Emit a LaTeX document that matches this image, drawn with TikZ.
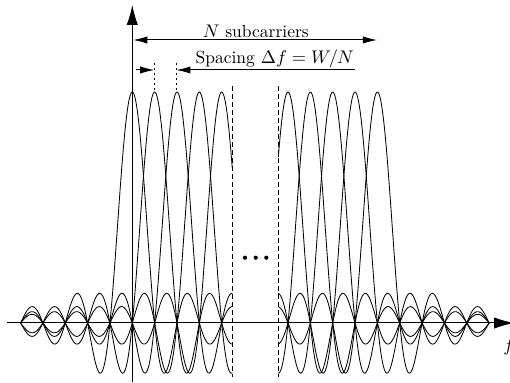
\documentclass[tikz,border=0pt]{standalone}
\usetikzlibrary{arrows.meta}
\begin{document}
\begin{tikzpicture}[x=0.6pt,y=-0.6pt,
  declare function={sncf(\u)=(abs(\u)<0.01)+(abs(\u)>=0.01)*sin(180*\u)/(pi*\u+(abs(\u)<0.01));},
  curve/.style={line width=0.5pt},
  axisline/.style={line width=0.6pt,-{Latex[length=12pt,width=6.8pt]}},
  dimarrow/.style={line width=0.6pt,-{Latex[length=8.5pt,width=4.4pt]}},
  dimboth/.style={line width=0.6pt,{Latex[length=8.5pt,width=4.4pt]}-{Latex[length=8.5pt,width=4.4pt]}},
  sepline/.style={line width=0.6pt,dash pattern=on 3pt off 1.8pt},
  tickline/.style={line width=0.5pt,dash pattern=on 1.5pt off 1.5pt},
  lbl/.style={inner sep=0pt,font=\fontsize{10.5}{12}\selectfont}]
\useasboundingbox (0,0) rectangle (510,383);
% sinc curves
\foreach \k in {0,...,4}{
  \draw[curve] plot[domain=20.55:232.3, samples=240] (\x,{323-231*sncf((\x-132.3-22.35*\k)/22.35)});
  \draw[curve] plot[domain=278.3:489.2, samples=240] (\x,{323-231*sncf((\x-288-22.35*\k)/22.35)});
}
% separators
\coordinate (s1t) at (232.3,86); \coordinate (s1b) at (232.3,377);
\coordinate (s2t) at (278.3,86); \coordinate (s2b) at (278.3,377);
\draw[sepline] (s1t) -- (s1b);
\draw[sepline] (s2t) -- (s2b);
% dots
\fill (245,257.7) circle[radius=2.1];
\fill (255.7,257.7) circle[radius=2.1];
\fill (266.3,257.7) circle[radius=2.1];
% axes
\coordinate (xl) at (7,323); \coordinate (xr) at (514,323);
\coordinate (yb) at (132.3,382); \coordinate (yt) at (132.3,5);
\draw[axisline] (xl) -- (xr);
\draw[axisline] (yb) -- (yt);
\node[lbl,anchor=west] (flab) at (503,347) {$f$};
% labels
\node[lbl] (nsub) at (255.8,31) {$N$ subcarriers};
\node[lbl] (spc) at (274.7,59) {Spacing $\Delta f = W/N$};
\coordinate (na) at (133.3,40); \coordinate (nb) at (377,40);
\draw[dimboth] (na) -- (nb);
\coordinate (sa) at (135.7,70); \coordinate (sb) at (154.3,70);
\coordinate (sc) at (355,70); \coordinate (sd) at (176.3,70);
\draw[dimarrow] (sa) -- (sb);
\draw[dimarrow] (sc) -- (sd);
\coordinate (t1t) at (154.3,63); \coordinate (t1b) at (154.3,92);
\coordinate (t2t) at (176.3,63); \coordinate (t2b) at (176.3,92);
\draw[tickline] (t1t) -- (t1b);
\draw[tickline] (t2t) -- (t2b);
\end{tikzpicture}
\end{document}
